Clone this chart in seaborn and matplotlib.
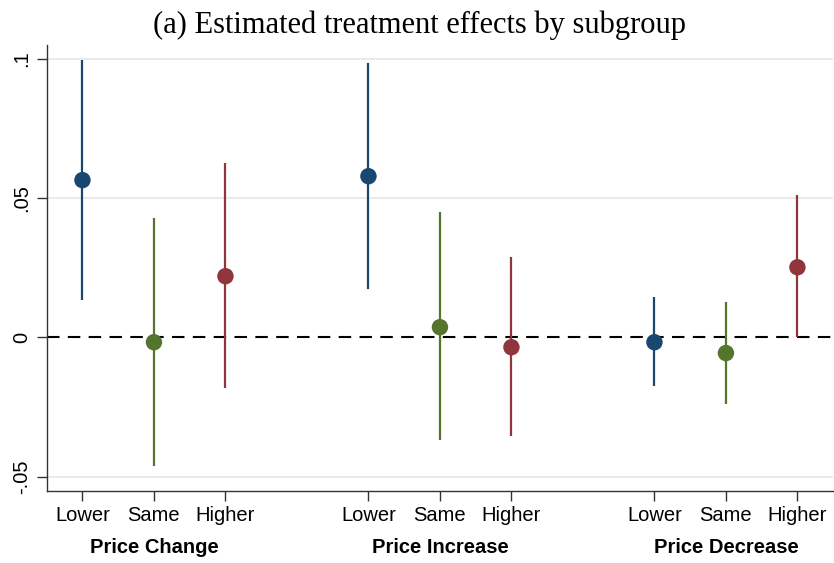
import numpy as np
import pandas as pd
import matplotlib
matplotlib.use("Agg")
import matplotlib.pyplot as plt
import matplotlib.transforms as mtransforms
import seaborn as sns

# Estimates
groups = ['Price Change', 'Price Increase', 'Price Decrease']
levels = ['Lower', 'Same', 'Higher']
estimate = [0.0565, -0.0017, 0.0220,
            0.0579, 0.0037, -0.0035,
            -0.0017, -0.0056, 0.0252]
ci_low = [0.0134, -0.0462, -0.0182,
          0.0173, -0.0369, -0.0354,
          -0.0175, -0.0239, 0.0000]
ci_high = [0.0995, 0.0428, 0.0626,
           0.0985, 0.0449, 0.0288,
           0.0145, 0.0127, 0.0511]
yticks = [-0.05, 0, 0.05, 0.1]
ytick_labels = ['-.05', '0', '.05', '.1']

colors = {'Lower': '#1a476f', 'Same': '#55752f', 'Higher': '#90353b'}

# x positions: 3 per group with a gap between groups
xpos = []
for g in range(len(groups)):
    for j in range(len(levels)):
        xpos.append(1 + 4 * g + j)

data = pd.DataFrame({
    'x': xpos,
    'group': np.repeat(groups, len(levels)),
    'level': levels * len(groups),
    'est': estimate,
    'lo': ci_low,
    'hi': ci_high,
})

sns.set_style("white")
plt.rcParams['font.family'] = ['Liberation Sans', 'DejaVu Sans']
plt.rcParams['text.color'] = 'black'
plt.rcParams['xtick.color'] = 'black'
plt.rcParams['ytick.color'] = 'black'

fig = plt.figure(figsize=(8.34, 5.63), dpi=100)
ax = fig.add_axes([0.056, 0.128, 0.943, 0.792])

for y in [-0.05, 0.05, 0.1]:
    ax.axhline(y, color='#e6e6e6', lw=1.2, zorder=0)
ax.axhline(0, color='black', lw=1.5, ls=(0, (6, 4)), zorder=1)

for _, r in data.iterrows():
    ax.vlines(r['x'], r['lo'], r['hi'], color=colors[r['level']], lw=1.6, zorder=2)

sns.scatterplot(data=data, x='x', y='est', hue='level', palette=colors,
                s=140, edgecolor='none', legend=False, ax=ax, zorder=3)

ax.set_xlim(0.5, 11.5)
ax.set_ylim(-0.0551, 0.105)
ax.set_yticks(yticks)
ax.set_yticklabels(ytick_labels, rotation=90, va='center', fontsize=14.5)
ax.set_xticks(xpos)
ax.set_xticklabels(data['level'], fontsize=14.5)
ax.tick_params(axis='both', direction='out', length=7, width=1, color='#333333',
               bottom=True, left=True)
ax.tick_params(axis='x', pad=4)
ax.tick_params(axis='y', pad=4)
ax.set_xlabel('')
ax.set_ylabel('')

for s in ['top', 'right']:
    ax.spines[s].set_visible(False)
for s in ['left', 'bottom']:
    ax.spines[s].set_color('#333333')
    ax.spines[s].set_linewidth(1)

trans = mtransforms.blended_transform_factory(ax.transData, ax.transAxes)
for g, name in enumerate(groups):
    ax.text(2 + 4 * g, -0.126, name, ha='center', va='center',
            fontsize=14.5, fontweight='bold', transform=trans)

fig.suptitle('(a) Estimated treatment effects by subgroup', x=0.503, y=0.982,
             fontsize=22, family='Liberation Serif')

fig.savefig('out.png', dpi=100)
